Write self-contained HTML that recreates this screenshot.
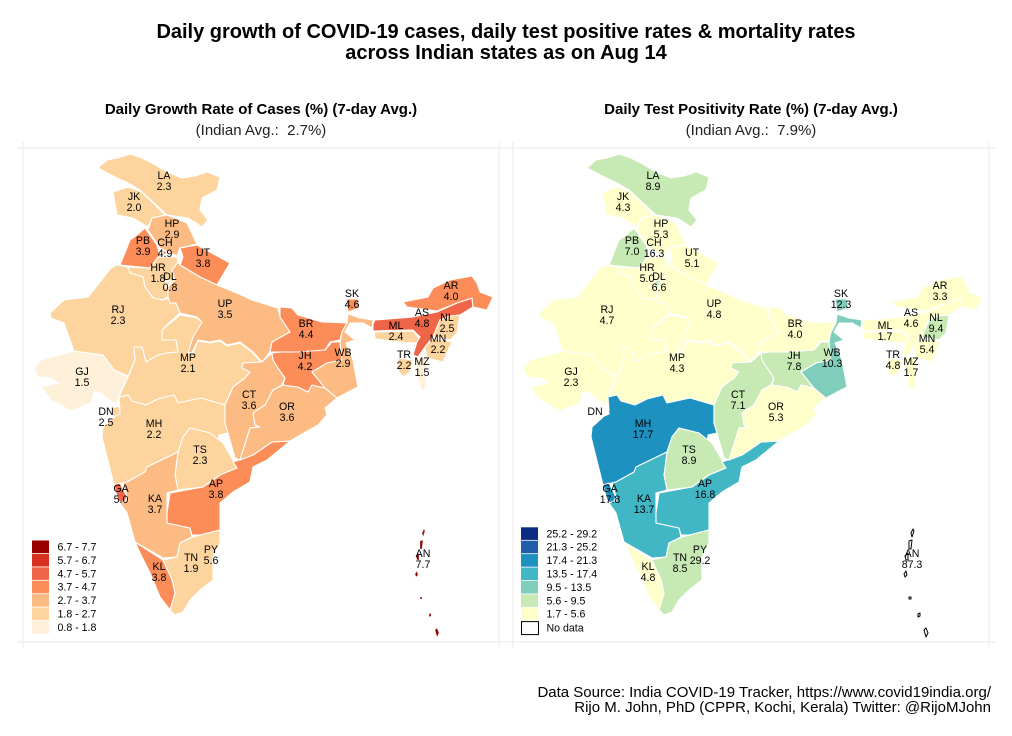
<!DOCTYPE html>
<html lang="en">
<head>
<meta charset="utf-8">
<title>COVID-19 growth and test positivity across Indian states</title>
<style>
html,body{margin:0;padding:0;background:#fff;}
svg{display:block;font-family:"Liberation Sans",Arial,sans-serif;}
text{white-space:pre;}
</style>
</head>
<body>
<svg id="chart" xmlns="http://www.w3.org/2000/svg" width="1012" height="736" viewBox="0 0 1012 736">
  <rect width="1012" height="736" fill="#fff"/>
  <g font-weight="bold" font-size="20" text-anchor="middle" fill="#000">
    <text x="506" y="38">Daily growth of COVID-19 cases, daily test positive rates &amp; mortality rates</text>
    <text x="506" y="59">across Indian states as on Aug 14</text>
  </g>
  <g font-size="15" text-anchor="end" fill="#000">
    <text x="991" y="697">Data Source: India COVID-19 Tracker, https://www.covid19india.org/</text>
    <text x="991" y="712">Rijo M. John, PhD (CPPR, Kochi, Kerala) Twitter: @RijoMJohn</text>
  </g>
</svg>
<script>
// ---- Data ----
const stateCodes = ['LA','JK','HP','PB','CH','UT','HR','DL','RJ','UP','MP','GJ','MH','DN','TS','GA','KA','AP','PY','TN','KL','CT','OR','BR','JH','WB','SK','ML','AS','NL','AR','MN','TR','MZ','AN'];
const growthRates = [2.3,2.0,2.9,3.9,4.9,3.8,1.8,0.8,2.3,3.5,2.1,1.5,2.2,2.5,2.3,5.0,3.7,3.8,5.6,1.9,3.8,3.6,3.6,4.4,4.2,2.9,4.6,2.4,4.8,2.5,4.0,2.2,2.2,1.5,7.7];
const positivityRates = [8.9,4.3,5.3,7.0,16.3,5.1,5.0,6.6,4.7,4.8,4.3,2.3,17.7,null,8.9,17.8,13.7,16.8,29.2,8.5,4.8,7.1,5.3,4.0,7.8,10.3,12.3,1.7,4.6,9.4,3.3,5.4,4.8,1.7,87.3];
const growthLegendLabels = ['0.8 - 1.8','1.8 - 2.7','2.7 - 3.7','3.7 - 4.7','4.7 - 5.7','5.7 - 6.7','6.7 - 7.7'];
const positivityLegendLabels = ['1.7 - 5.6','5.6 - 9.5','9.5 - 13.5','13.5 - 17.4','17.4 - 21.3','21.3 - 25.2','25.2 - 29.2'];
const growthDomain = [0.8,7.7];
const positivityDomain = [1.7,29.2];
const orRd = ['#fef0d9','#fdd49e','#fdbb84','#fc8d59','#ef6548','#d7301f','#990000'];
const ylGnBu = ['#ffffcc','#c7e9b4','#7fcdbb','#41b6c4','#1d91c0','#225ea8','#0c2c84'];

// ---- Basemap geometry (map units, projected through mapX/mapY) ----
const basemap = {
 LA:[[98,168],[107,160],[118,158],[130,154],[142,158],[152,163],[167,172],[182,178],[195,176],[207,172],[220,177],[217,190],[202,198],[200,210],[208,220],[202,227],[188,218],[167,215],[153,202],[140,190],[128,183],[117,178]],
 JK:[[113,192],[128,187],[140,191],[153,203],[165,215],[152,218],[148,227],[133,218],[117,215]],
 HP:[[152,218],[167,215],[187,223],[197,244],[180,248],[177,256],[160,248],[148,230]],
 PB:[[145,228],[157,245],[160,256],[150,268],[130,266],[120,265],[130,240],[137,235]],
 UT:[[180,248],[197,245],[230,263],[217,285],[200,277],[180,265],[183,257]],
 HR:[[128,267],[150,268],[158,257],[177,257],[178,262],[172,270],[175,280],[168,287],[168,297],[163,300],[153,298],[145,287],[143,277],[130,273]],
 CH:[[163,251],[166,251],[166,254],[163,254]],
 DL:[[165,281],[171,280],[171,287],[166,287]],
 UP:[[178,262],[180,265],[200,277],[217,285],[237,293],[252,300],[278,308],[280,317],[290,332],[272,342],[270,352],[262,362],[253,352],[240,342],[227,345],[220,340],[210,342],[198,340],[192,353],[188,352],[192,338],[202,322],[197,317],[180,313],[176,303],[170,303],[168,297],[168,287],[175,280],[172,270]],
 RJ:[[128,267],[130,273],[143,277],[145,287],[153,298],[163,300],[168,298],[170,303],[176,303],[180,313],[170,322],[162,330],[162,340],[176,340],[178,352],[167,353],[158,355],[146,362],[142,347],[134,347],[135,360],[128,376],[114,370],[103,355],[74,351],[71,343],[64,323],[51,318],[50,313],[64,300],[88,297],[100,282],[111,268],[117,265]],
 GJ:[[128,377],[121,390],[119,397],[116,405],[101,393],[94,392],[91,403],[71,411],[51,400],[41,387],[59,383],[51,378],[38,377],[34,368],[41,360],[74,351],[103,355],[114,370]],
 MP:[[128,377],[135,360],[134,347],[142,347],[146,362],[158,355],[167,353],[178,352],[176,340],[162,340],[162,330],[180,315],[197,318],[202,322],[193,337],[188,353],[193,353],[198,341],[210,343],[220,341],[227,346],[240,343],[253,353],[262,363],[243,363],[242,368],[250,372],[245,378],[233,387],[225,405],[201,398],[178,403],[174,395],[158,399],[146,405],[132,401],[128,395],[119,397],[122,390]],
 MH:[[103,427],[113,418],[120,410],[119,397],[128,395],[132,401],[146,405],[158,399],[174,395],[178,403],[201,398],[225,405],[225,423],[228,433],[219,435],[218,445],[210,433],[190,428],[183,437],[178,452],[147,467],[145,472],[127,482],[114,485],[102,437]],
 DN:[[112,408],[119,406],[120,414],[113,417]],
 TS:[[190,428],[210,433],[223,443],[233,460],[237,468],[220,475],[203,487],[178,490],[175,475],[178,452],[183,437]],
 KA:[[178,452],[175,475],[178,490],[167,493],[167,513],[167,523],[190,528],[192,537],[180,543],[177,557],[163,558],[135,542],[127,513],[120,503],[128,500],[123,483],[127,482],[145,472],[147,467]],
 GA:[[114,485],[120,483],[127,497],[123,505],[118,500]],
 AP:[[233,462],[253,455],[272,442],[290,441],[267,460],[253,467],[250,482],[233,492],[220,503],[220,530],[200,535],[192,535],[190,528],[167,523],[167,513],[170,493],[203,487],[220,475],[237,468]],
 TN:[[180,543],[193,537],[220,530],[220,543],[213,557],[213,580],[200,590],[190,600],[183,612],[175,615],[170,610],[175,593],[172,580],[163,560],[177,557]],
 PY:[[212,567],[214,567],[214,569],[212,569]],
 KL:[[135,542],[163,560],[172,580],[175,593],[170,610],[160,597],[150,573],[140,553]],
 CT:[[243,363],[262,362],[272,353],[273,360],[285,378],[282,385],[273,390],[265,405],[253,413],[255,425],[260,427],[250,428],[240,460],[235,458],[228,433],[225,423],[225,405],[233,387],[245,378],[250,372],[242,368]],
 OR:[[283,385],[298,387],[308,392],[312,385],[325,388],[337,398],[325,408],[327,415],[318,425],[290,441],[272,442],[253,455],[240,460],[250,428],[260,427],[255,425],[253,413],[265,405],[273,390]],
 BR:[[280,307],[292,308],[298,315],[322,322],[347,323],[342,332],[340,340],[330,342],[325,350],[313,353],[298,352],[282,352],[270,352],[272,342],[290,332],[280,317]],
 JH:[[272,353],[282,352],[298,352],[325,350],[332,342],[340,342],[342,360],[327,363],[312,372],[325,388],[312,385],[308,392],[298,387],[283,385],[285,378],[278,368],[273,360]],
 WB:[[342,360],[340,342],[342,332],[347,323],[348,314],[360,318],[373,320],[372,328],[363,323],[350,323],[345,332],[355,340],[346,343],[353,360],[358,387],[352,390],[337,398],[325,388],[312,372],[327,363]],
 SK:[[346,299],[358,299],[359,308],[348,312]],
 AS:[[375,320],[413,317],[437,312],[457,303],[472,298],[473,307],[460,315],[450,316],[440,320],[433,337],[425,347],[418,357],[413,355],[417,342],[420,337],[413,330],[373,331],[373,324]],
 ML:[[374,332],[413,331],[419,338],[417,343],[400,342],[375,339]],
 NL:[[460,315],[457,333],[450,340],[433,337],[440,320],[450,316]],
 AR:[[403,302],[428,297],[433,288],[450,280],[472,276],[477,283],[480,292],[493,297],[487,310],[473,307],[472,298],[457,303],[437,311],[407,307]],
 MN:[[433,338],[452,342],[443,362],[427,358],[425,347]],
 MZ:[[415,357],[427,358],[426,387],[422,392],[418,380]],
 TR:[[398,370],[398,358],[413,360],[410,372],[403,377]],
 AN:[[[422,533],[424,529],[425,531],[423,537]],[[420,541],[423,540],[422,549],[420,549]],[[416,556],[419,553],[419,560],[417,560]],[[415,574],[417,571],[418,575],[416,577]],[[420,597],[422,597],[422,599],[420,599]],[[429,614],[431,613],[431,616],[429,617]],[[435,630],[437,628],[439,633],[437,637]]]
};

const labelAnchors = {LA:[164,175],JK:[134,196],HP:[172,223],PB:[143,240],CH:[165,242],UT:[203,252],HR:[158,267],DL:[170,276],RJ:[118,309],UP:[225,303],MP:[188,357],GJ:[82,371],DN:[106,411],MH:[154,423],TS:[200,449],GA:[121,488],KA:[155,498],AP:[216,483],PY:[211,549],TN:[191,557],KL:[159,566],CT:[249,394],OR:[287,406],BR:[306,323],JH:[305,355],WB:[343,352],SK:[352,293],ML:[396,325],AS:[422,312],NL:[447,317],AR:[451,285],MN:[438,338],TR:[404,354],MZ:[422,361],AN:[423,553]};

// ---- Axis functions ----
const NS = 'http://www.w3.org/2000/svg';
const root = document.getElementById('chart');
function mapX(v, panel){ return v + panel.offset; }
function mapY(v){ return v; }
function binIndex(value, domain){
  if (value === null || value < domain[0] || value > domain[1]) return -1;
  const step = (domain[1] - domain[0]) / 7;
  return Math.min(6, Math.floor((value - domain[0]) / step));
}
function make(tag, attrs, parent){
  const el = document.createElementNS(NS, tag);
  for (const k in attrs) el.setAttribute(k, attrs[k]);
  parent.appendChild(el);
  return el;
}
function pathFrom(points, panel){
  return 'M' + points.map(p => mapX(p[0], panel).toFixed(1) + ' ' + mapY(p[1]).toFixed(1)).join('L') + 'Z';
}
function drawPanel(panel){
  const g = make('g', {}, root);
  
  

  const head = make('text', {x: panel.titleX, y: 114, 'font-size': 15, 'font-weight': 'bold', 'text-anchor': 'middle', fill: '#000'}, g);
  
  
  head.textContent = panel.title;

  const sub = make('text', {x: panel.titleX, y: 135, 'font-size': 15, 'text-anchor': 'middle', fill: '#222'}, g);
  
  
  sub.textContent = panel.subtitle;

  [[panel.frame[0], 148, panel.frame[1], 148], [panel.frame[0], 642, panel.frame[1], 642],
   [panel.frame[2], 142, panel.frame[2], 648], [panel.frame[3], 142, panel.frame[3], 648]].forEach(c => {
    const line = make('line', {x1: c[0], y1: c[1], x2: c[2], y2: c[3], stroke: '#ececec', 'stroke-width': 1.2}, g);
    
    
  });

  const states = make('g', {}, g);
  
  
  stateCodes.forEach((code, i) => {
    const value = panel.values[i];
    const bin = binIndex(value, panel.domain);
    const parts = code === 'AN' ? basemap.AN : [basemap[code]];
    const missing = bin < 0;
    const island = code === 'AN';
    const d = parts.map(p => pathFrom(p, panel)).join('');
    const shape = make('path', {
      d: d,
      fill: missing ? '#fff' : panel.palette[bin],
      stroke: (missing && island) ? '#000' : '#fff',
      'stroke-width': island ? (missing ? 1 : 0.3) : 1.1,
      'stroke-linejoin': 'round'
    }, states);
    
    
  });

  const labels = make('g', {'font-size': 10.6, 'text-anchor': 'middle', fill: '#000'}, g);
  
  
  stateCodes.forEach((code, i) => {
    const a = labelAnchors[code];
    const codeText = make('text', {x: mapX(a[0], panel), y: mapY(a[1]) + 3.8}, labels);
    
    
    codeText.textContent = code;
    const value = panel.values[i];
    if (value !== null) {
      const valueText = make('text', {x: mapX(a[0], panel), y: mapY(a[1]) + 15}, labels);
      
      
      valueText.textContent = value.toFixed(1);
    }
  });

  const legend = make('g', {'font-size': 10.6, fill: '#000'}, g);
  
  
  const n = panel.legendLabels.length;
  panel.legendLabels.forEach((label, i) => {
    const row = n - 1 - i;
    const y = panel.legendTop + row * 13.4;
    const swatch = make('rect', {x: panel.legendX, y: y, width: 17, height: 12.6, fill: panel.palette[i]}, legend);
    
    
    const text = make('text', {x: panel.legendX + 25.5, y: y + 10}, legend);
    
    
    text.textContent = label;
  });
  if (panel.noData) {
    const y = panel.legendTop + n * 13.4;
    const swatch = make('rect', {x: panel.legendX + 0.5, y: y + 0.5, width: 17, height: 13, fill: '#fff', stroke: '#000', 'stroke-width': 1}, legend);
    
    
    const text = make('text', {x: panel.legendX + 25.5, y: y + 10.5}, legend);
    
    
    text.textContent = 'No data';
  }
}

drawPanel({key: 'growth', offset: 0, titleX: 261, title: 'Daily Growth Rate of Cases (%) (7-day Avg.)', subtitle: '(Indian Avg.:  2.7%)', frame: [17, 506, 23, 499], values: growthRates, domain: growthDomain, palette: orRd, legendLabels: growthLegendLabels, legendX: 32, legendTop: 540.5, noData: false});
drawPanel({key: 'positivity', offset: 489, titleX: 751, title: 'Daily Test Positivity Rate (%) (7-day Avg.)', subtitle: '(Indian Avg.:  7.9%)', frame: [507, 996, 513, 989], values: positivityRates, domain: positivityDomain, palette: ylGnBu, legendLabels: positivityLegendLabels, legendX: 521, legendTop: 527.3, noData: true});
</script>
</body>
</html>
